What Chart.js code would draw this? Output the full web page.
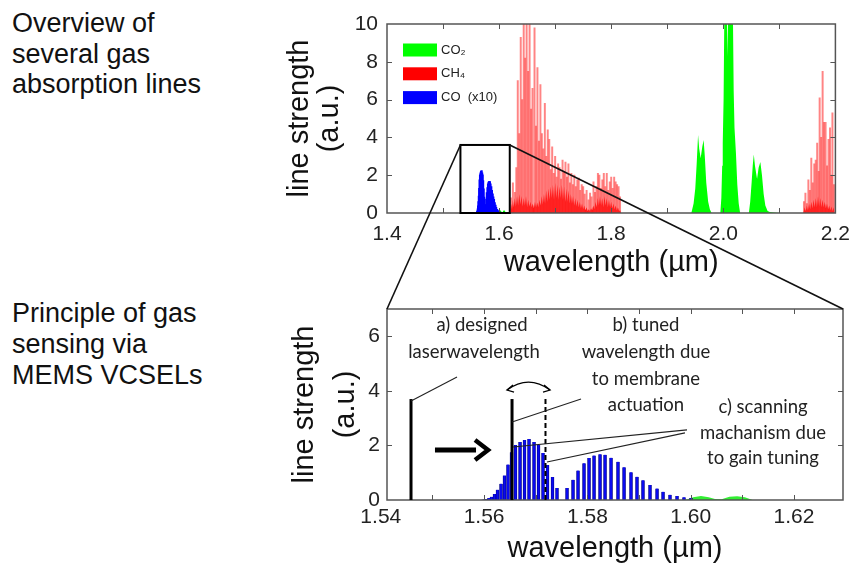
<!DOCTYPE html>
<html><head><meta charset="utf-8">
<script src="https://cdn.jsdelivr.net/npm/chart.js@4.4.1/dist/chart.umd.min.js"></script>
<style>
html,body{margin:0;padding:0;background:#fff;}
#wrap{position:relative;width:859px;height:567px;overflow:hidden;background:#fff;}
canvas{position:absolute;left:0;}
.desc{position:absolute;left:12px;font-family:"Liberation Sans",Arial,sans-serif;font-size:27px;color:#111;white-space:nowrap;}
</style></head><body>
<div id="wrap">
<div class="desc" style="top:8px;line-height:30.5px">Overview of<br>several gas<br>absorption lines</div>
<div class="desc" style="top:298px;line-height:31px">Principle of gas<br>sensing via<br>MEMS VCSELs</div>
<canvas id="c1" width="859" height="282" style="top:0"></canvas>
<canvas id="c2" width="859" height="285" style="top:282px"></canvas>
<canvas id="ov" width="859" height="567" style="top:0;pointer-events:none"></canvas>
</div>
<script>
// ---------------- DATA ----------------
// CO lines (x10), wavelength in µm and line strength (a.u.)
const coWl = [1.55960,1.55998,1.56047,1.56095,1.56144,1.56202,1.56260,1.56328,1.56395,1.56463,
  1.56531,1.56608,1.56696,1.56783,1.56870,1.56967,1.57054,1.57141,1.57228,1.57325,1.57412,
  1.57606,1.57722,1.57819,1.57935,1.58032,1.58129,1.58245,1.58342,1.58458,1.58593,
  1.58710,1.58845,1.58961,1.59077,1.59213,1.59349,1.59465,1.59600,1.59736,1.59871,1.60007];
const coVal = [0.01,0.02,0.04,0.07,0.12,0.22,0.38,0.6,0.9,1.3,
  1.75,2.02,2.13,2.2,2.24,2.13,2.02,1.72,1.28,0.84,0.44,
  0.44,0.74,1.08,1.35,1.54,1.63,1.68,1.66,1.55,1.4,
  1.2,1.02,0.85,0.72,0.55,0.42,0.3,0.19,0.15,0.1,0.07];

// CH4 individual strong lines
const ch4LineWl = [1.6211,1.6246,1.6281,1.6307,1.6333,1.6360,1.6386,1.6412,1.6439,1.6465,
  1.6491,1.6518,1.6544,1.6570,1.6596,1.6632,1.6658,1.6684,1.6711,1.6737,
  1.6763,1.6789,1.6816,1.6842,1.6868,1.6895,1.6921,1.6947,1.6974,1.7000,
  1.7026,1.7053,1.7079,1.7105,1.7132,1.7158,1.7184,1.7211,1.7237,1.7263,
  1.7289,1.7316,1.7342,1.7368,1.7395,1.7421,1.7447,1.7474,1.7500,1.7526,
  1.7561,1.7596,1.7623,1.7649,1.7684,1.7711,1.7737,1.7763,1.7789,1.7816,
  1.7842,1.7868,1.7895,1.7921,1.7947,1.7974,1.8000,1.8026,1.8053,1.8079,
  1.8105,1.8132,1.8158,
  2.1439,2.1465,2.1491,2.1518,2.1544,2.1570,2.1596,2.1623,2.1649,2.1675,
  2.1702,2.1719,2.1746,2.1772,2.1798,2.1825,2.1851,2.1877,2.1904,2.1930,2.1947,2.1974];
const ch4LineVal = [0.8,1.6,1.1,2.4,7.0,4.2,9.3,6.0,11,8.2,
  11,7.5,11,5.5,6.6,9.8,4.6,7.7,3.8,6.8,
  4.2,3.4,5.8,3.0,4.4,3.9,2.3,3.5,2.1,3.0,
  1.9,2.6,2.4,1.8,2.8,2.2,2.7,1.9,2.6,1.6,
  2.1,1.5,2.0,1.4,1.75,1.85,1.2,1.5,1.4,1.0,
  1.2,0.7,1.05,0.85,1.65,1.1,1.4,2.1,2.0,1.3,
  1.75,2.1,1.4,2.1,1.2,1.65,1.9,1.3,1.9,1.65,
  1.5,1.4,0.85,
  0.6,1.05,0.5,1.75,1.2,2.9,1.6,2.6,2.8,3.7,
  2.2,6.1,4.0,7.5,4.8,4.8,2.5,3.9,4.5,2.0,5.3,1.5];

// CH4 dense weak-line background
const ch4BaseWl = [1.6205,1.6215,1.6230,1.6245,1.6260,1.6280,1.6300,1.6320,1.6340,1.6360,
  1.6380,1.6400,1.6420,1.6440,1.6460,1.6480,1.6500,1.6520,1.6540,1.6560,
  1.6580,1.6600,1.6620,1.6640,1.6660,1.6680,1.6700,1.6720,1.6740,1.6760,
  1.6780,1.6800,1.6820,1.6840,1.6860,1.6880,1.6900,1.6920,1.6940,1.6960,
  1.6980,1.7000,1.7020,1.7040,1.7060,1.7080,1.7100,1.7120,1.7140,1.7160,
  1.7180,1.7200,1.7220,1.7240,1.7260,1.7280,1.7300,1.7320,1.7340,1.7360,
  1.7380,1.7400,1.7420,1.7440,1.7460,1.7480,1.7500,1.7520,1.7540,1.7560,
  1.7580,1.7600,1.7620,1.7640,1.7660,1.7680,1.7700,1.7720,1.7740,1.7760,
  1.7780,1.7800,1.7820,1.7840,1.7860,1.7880,1.7900,1.7920,1.7940,1.7960,
  1.7980,1.8000,1.8020,1.8040,1.8060,1.8080,1.8100,1.8120,1.8140,1.8160,1.8175,
  2.1430,2.1450,2.1470,2.1490,2.1510,2.1530,2.1550,2.1570,2.1590,2.1610,
  2.1630,2.1650,2.1670,2.1690,2.1710,2.1730,2.1750,2.1770,2.1790,2.1810,
  2.1830,2.1850,2.1870,2.1890,2.1910,2.1930,2.1950,2.1970,2.1985];
const ch4BaseVal = [0,0.5,0.2,0.7,0.3,0.8,0.35,0.9,0.4,1.0,
  0.45,0.9,0.35,0.8,0.4,0.9,0.3,0.7,0.35,0.6,
  0.3,0.5,0.25,0.6,0.3,0.55,0.3,0.7,0.4,0.9,
  0.45,1.0,0.5,1.2,0.6,1.3,0.7,1.4,0.8,1.5,
  0.7,1.6,0.8,1.5,0.7,1.4,0.8,1.5,0.7,1.4,
  0.6,1.3,0.6,1.2,0.5,1.0,0.5,0.9,0.4,0.8,
  0.35,0.7,0.3,0.6,0.25,0.5,0.2,0.4,0.15,0.3,
  0.1,0.2,0.1,0.25,0.15,0.4,0.2,0.6,0.3,0.8,
  0.4,0.9,0.4,0.8,0.3,0.9,0.4,0.8,0.3,0.7,
  0.3,0.6,0.25,0.5,0.2,0.4,0.15,0.3,0.1,0.15,0,
  0,0.3,0.1,0.4,0.15,0.5,0.2,0.6,0.25,0.7,
  0.3,0.8,0.3,0.9,0.35,0.8,0.3,0.7,0.3,0.6,
  0.25,0.5,0.2,0.4,0.15,0.35,0.1,0.3,0];

// CO2 bands (envelopes)
const co2Wl = [1.5990,1.6005,1.6020,1.6035,1.6047,1.6060,1.6075,1.6090,1.6105,1.6120,
  1.9430,1.9470,1.9500,1.9525,1.9550,1.9570,1.9596,1.9625,1.9649,1.9670,1.9696,1.9730,1.9760,1.9790,
  1.9947,1.9965,1.9980,1.9990,2.0005,2.0020,2.0060,2.0074,2.0088,2.0170,2.0185,2.0200,2.0225,2.0250,2.0275,2.0300,
  2.0456,2.0480,2.0505,2.0525,2.0544,2.0565,2.0602,2.0630,2.0661,2.0690,2.0720,2.0750,2.0790,2.0830,2.0900,2.1000];
const co2Val = [0,0.1,0.15,0.1,0.04,0.03,0.12,0.14,0.1,0,
  0,0.5,1.3,2.6,4.13,3.4,2.9,3.5,3.86,3.0,1.6,0.6,0.2,0,
  0,0.8,2.5,3.7,6.0,11,11,8.3,11,11,6.5,4.5,3.2,1.5,0.5,0,
  0,0.6,1.6,2.5,3.1,2.5,1.8,2.4,2.7,2.0,1.0,0.4,0.1,0.05,0.03,0];

const legendLabels = ['CO\u2082', 'CH\u2084', 'CO  (x10)'];
const legendColors = ['#00ff00', '#ff0000', '#0000ff'];

const topXTickLabels = ['1.4','1.6','1.8','2.0','2.2'];
const bottomXTicks = [1.54,1.55,1.56,1.57,1.58,1.59,1.60,1.61,1.62,1.63];
const bottomXTickLabels = ['1.54','1.56','1.58','1.60','1.62'];

// zoom box in top chart: [wl min, wl max, strength min, strength max]
const zoomBox = [1.531, 1.619, 0, 3.6];

// annotation positions in bottom chart data units
const laserDesignedWl = 1.54585, laserTunedWl = 1.56541, laserScanWl = 1.57189, laserTop = 3.7;
const noteTexts = [
  ['a) designed', 1.5596, 6.41], ['laserwavelength', 1.55805, 5.42],
  ['b) tuned', 1.59135, 6.41], ['wavelength due', 1.59135, 5.42],
  ['to membrane', 1.59135, 4.45], ['actuation', 1.59135, 3.48],
  ['c) scanning', 1.61401, 3.41], ['machanism due', 1.61401, 2.46], ['to gain tuning', 1.61401, 1.54]
];
const leaders = [
  [1.54585, 3.63, 1.55476, 4.51],
  [1.56541, 2.86, 1.57877, 3.70],
  [1.5656, 1.94, 1.59929, 2.57],
  [1.57218, 1.39, 1.5989, 2.46]
];
const bigArrow = [1.55049, 1.83, 1.56115, 1.83];
const tuneArc = [1.56444, 1.57277, 4.03, 4.32];

// ---------------- DRAWING ----------------
const FONT = '"Liberation Sans", Arial, sans-serif';
const xy = (w, v) => w.map((x, i) => ({x, y: v[i]}));
function seg(ctx, x0, y0, x1, y1) { ctx.beginPath(); ctx.moveTo(x0, y0); ctx.lineTo(x1, y1); ctx.stroke(); }

const frame = {
  id: 'frame',
  afterDatasetsDraw(chart) {
    const {ctx, chartArea: a, scales: {x, y}} = chart;
    ctx.save();
    ctx.strokeStyle = '#555'; ctx.lineWidth = 1;
    const eps = 1e-6;
    x.ticks.forEach(t => {
      if (t.value <= x.min + eps || t.value >= x.max - eps) return;
      const p = Math.round(x.getPixelForValue(t.value)) + 0.5;
      seg(ctx, p, a.bottom, p, a.bottom - 5); seg(ctx, p, a.top, p, a.top + 5);
    });
    y.ticks.forEach(t => {
      if (t.value <= y.min + eps || t.value >= y.max - eps) return;
      const p = Math.round(y.getPixelForValue(t.value)) + 0.5;
      seg(ctx, a.left, p, a.left + 5, p); seg(ctx, a.right, p, a.right - 5, p);
    });
    ctx.lineWidth = 1.5; ctx.strokeStyle = '#555';
    ctx.strokeRect(a.left, a.top, a.right - a.left, a.bottom - a.top);
    ctx.restore();
  }
};

const topDecor = {
  id: 'topDecor',
  afterDraw(chart) {
    const {ctx, chartArea: a, scales: {x, y}} = chart;
    ctx.save();
    const x0 = x.getPixelForValue(zoomBox[0]), x1 = x.getPixelForValue(zoomBox[1]);
    const y0 = y.getPixelForValue(zoomBox[2]), y1 = y.getPixelForValue(zoomBox[3]);
    ctx.strokeStyle = '#000'; ctx.lineWidth = 2;
    ctx.strokeRect(x0, y1, x1 - x0, y0 - y1);
    ctx.font = '13px ' + FONT; ctx.textBaseline = 'middle'; ctx.textAlign = 'left';
    legendLabels.forEach((lab, i) => {
      const cy = a.top + 26 + i * 23.8;
      ctx.fillStyle = legendColors[i];
      ctx.fillRect(a.left + 16, cy - 6.5, 34, 13);
      ctx.fillStyle = '#222';
      ctx.fillText(lab, a.left + 54, cy);
    });
    ctx.restore();
  }
};

const annot = {
  id: 'annot',
  afterDatasetsDraw(chart) {
    const {ctx, scales: {x, y}} = chart;
    const X = v => x.getPixelForValue(v), Y = v => y.getPixelForValue(v);
    ctx.save();
    ctx.strokeStyle = '#000'; ctx.lineCap = 'butt';
    ctx.lineWidth = 3;
    seg(ctx, X(laserDesignedWl), Y(0), X(laserDesignedWl), Y(laserTop));
    seg(ctx, X(laserTunedWl), Y(0), X(laserTunedWl), Y(laserTop));
    ctx.lineWidth = 2; ctx.setLineDash([5, 3]);
    seg(ctx, X(laserScanWl), Y(0), X(laserScanWl), Y(laserTop));
    ctx.setLineDash([]);
    ctx.lineWidth = 1.1; ctx.strokeStyle = '#222';
    leaders.forEach(l => seg(ctx, X(l[0]), Y(l[1]), X(l[2]), Y(l[3])));
    // curved double arrow
    const ax0 = X(tuneArc[0]), ax1 = X(tuneArc[1]), ay = Y(tuneArc[2]), ap = Y(tuneArc[3]);
    ctx.lineWidth = 1.3; ctx.strokeStyle = '#000';
    ctx.beginPath(); ctx.moveTo(ax0, ay); ctx.quadraticCurveTo((ax0 + ax1) / 2, 2 * ap - ay, ax1, ay); ctx.stroke();
    ctx.beginPath(); ctx.moveTo(ax0 + 6, ay - 5); ctx.lineTo(ax0, ay); ctx.lineTo(ax0 + 7, ay + 2); ctx.stroke();
    ctx.beginPath(); ctx.moveTo(ax1 - 6, ay - 5); ctx.lineTo(ax1, ay); ctx.lineTo(ax1 - 7, ay + 2); ctx.stroke();
    // big arrow
    const bx0 = X(bigArrow[0]), by = Y(bigArrow[1]), bx1 = X(bigArrow[2]);
    ctx.lineWidth = 5;
    seg(ctx, bx0, by, bx1 - 14, by);
    ctx.lineWidth = 4.5; ctx.lineJoin = 'miter';
    ctx.beginPath(); ctx.moveTo(bx1 - 15, by - 10); ctx.lineTo(bx1 - 2, by); ctx.lineTo(bx1 - 15, by + 10); ctx.stroke();
    // texts
    ctx.fillStyle = '#222'; ctx.font = '18.5px Lato, "Open Sans", sans-serif';
    ctx.textAlign = 'center'; ctx.textBaseline = 'middle';
    noteTexts.forEach(n => ctx.fillText(n[0], X(n[1]), Y(n[2])));
    ctx.restore();
  }
};

const tickFont = {family: FONT, size: 21};
const titleFont = {family: FONT, size: 29};

const c1 = new Chart(document.getElementById('c1'), {
  type: 'bar',
  data: {datasets: [
    {type: 'line', label: legendLabels[1], data: xy(ch4BaseWl, ch4BaseVal), backgroundColor: '#ff0000',
     borderWidth: 0, pointRadius: 0, fill: 'origin', tension: 0, order: 4},
    {type: 'bar', label: 'CH4 lines', data: xy(ch4LineWl, ch4LineVal), backgroundColor: 'rgba(255,50,50,0.6)',
     barThickness: 1.3, grouped: false, order: 3},
    {type: 'line', label: legendLabels[0], data: xy(co2Wl, co2Val), backgroundColor: '#00ff00',
     borderWidth: 0, pointRadius: 0, fill: 'origin', tension: 0, order: 2},
    {type: 'bar', label: legendLabels[2], data: xy(coWl, coVal), backgroundColor: '#0000ff',
     barThickness: 1.6, grouped: false, order: 1}
  ]},
  options: {
    responsive: false, animation: false, devicePixelRatio: 1,
    layout: {padding: {left: 285, top: 24, right: 16, bottom: 0}},
    plugins: {legend: {display: false}, tooltip: {enabled: false}},
    scales: {
      x: {type: 'linear', min: 1.4, max: 2.2, offset: false, bounds: 'data',
        grid: {display: false, drawTicks: false}, border: {display: false},
        ticks: {stepSize: 0.1, autoSkip: false, maxRotation: 0, padding: 9, font: tickFont, color: '#222',
          callback: v => { const k = Math.round(v * 10); return k % 2 === 0 ? topXTickLabels[(k - 14) / 2] : ''; }},
        title: {display: true, text: 'wavelength (\u00b5m)', font: titleFont, color: '#111', padding: {top: 0, bottom: 1.6}},
        afterFit: s => { s.height = 69; }},
      y: {min: 0, max: 10, grid: {display: false, drawTicks: false}, border: {display: false},
        ticks: {stepSize: 2, padding: 9, font: tickFont, color: '#222'},
        title: {display: true, text: ['line strength', '(a.u.)'], font: {family: FONT, size: 29, lineHeight: 1.03},
          color: '#111', padding: {top: 0, bottom: 0}},
        afterFit: s => { s.width = 102; }}
    }
  },
  plugins: [frame, topDecor]
});

const c2 = new Chart(document.getElementById('c2'), {
  type: 'bar',
  data: {datasets: [
    {type: 'line', label: legendLabels[0], data: xy(co2Wl, co2Val), backgroundColor: '#33ee33',
     borderWidth: 0, pointRadius: 0, fill: 'origin', tension: 0, order: 2},
    {type: 'bar', label: legendLabels[2], data: xy(coWl, coVal), backgroundColor: '#0a0af0',
     borderColor: '#000080', borderWidth: {left: 0.7, right: 0.7, top: 0, bottom: 0},
     barThickness: 3, grouped: false, order: 1}
  ]},
  options: {
    responsive: false, animation: false, devicePixelRatio: 1,
    layout: {padding: {left: 285, top: 27, right: 16, bottom: 0}},
    plugins: {legend: {display: false}, tooltip: {enabled: false}},
    scales: {
      x: {type: 'linear', min: 1.5412, max: 1.6295, offset: false, bounds: 'data',
        afterBuildTicks: s => { s.ticks = bottomXTicks.map(v => ({value: v})); },
        grid: {display: false, drawTicks: false}, border: {display: false},
        ticks: {autoSkip: false, maxRotation: 0, padding: 5, font: tickFont, color: '#222',
          callback: v => { const k = Math.round(v * 100); return k % 2 === 0 ? bottomXTickLabels[(k - 154) / 2] : ''; }},
        title: {display: true, text: 'wavelength (\u00b5m)', font: titleFont, color: '#111', padding: {top: 0, bottom: 0.6}},
        afterFit: s => { s.height = 67; }},
      y: {min: 0, max: 7, grid: {display: false, drawTicks: false}, border: {display: false},
        ticks: {stepSize: 1, padding: 7, font: tickFont, color: '#222',
          callback: v => (Math.round(v) % 2 === 0 ? String(v) : '')},
        title: {display: true, text: ['line strength', '(a.u.)'], font: {family: FONT, size: 29, lineHeight: 1.41},
          color: '#111', padding: {top: 0, bottom: 0}},
        afterFit: s => { s.width = 102; }}
    }
  },
  plugins: [frame, annot]
});

// zoom lines connecting the box in the top chart with the bottom chart
(function () {
  const ctx = document.getElementById('ov').getContext('2d');
  const xs = c1.scales.x, ys = c1.scales.y, a2 = c2.chartArea, off = 282;
  const bx0 = xs.getPixelForValue(zoomBox[0]), bx1 = xs.getPixelForValue(zoomBox[1]), by = ys.getPixelForValue(zoomBox[3]);
  ctx.strokeStyle = '#111'; ctx.lineWidth = 1.6;
  seg(ctx, bx0, by, a2.left, a2.top + off);
  seg(ctx, bx1, by, a2.right, a2.top + off);
})();
</script>
</body></html>
